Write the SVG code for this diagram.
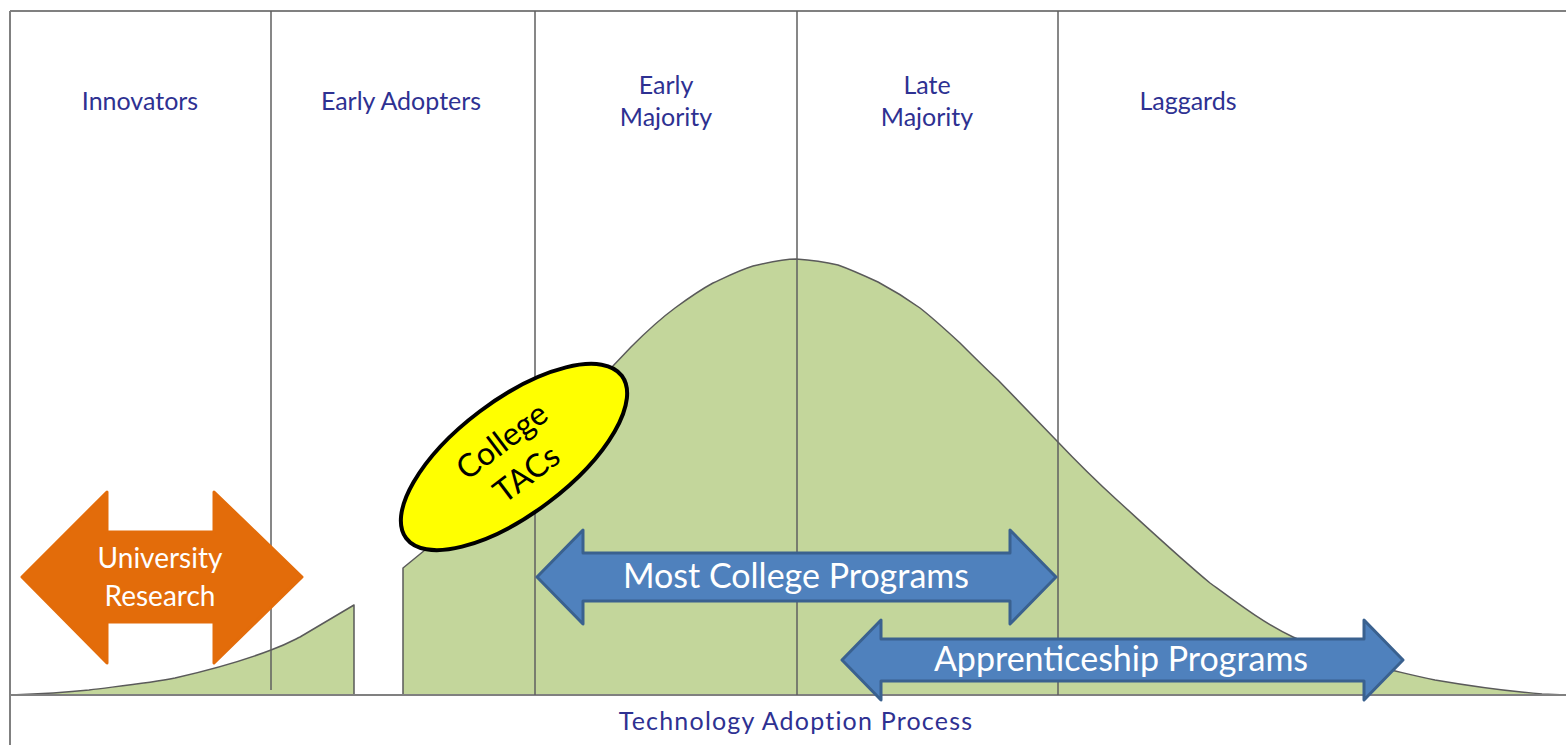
<svg xmlns="http://www.w3.org/2000/svg" width="1566" height="745" viewBox="0 0 1566 745">
<style>
.frame{stroke:#808080;stroke-width:2;fill:none}
.div{stroke:#5f5f5f;stroke-width:1.5;fill:none}
.curve{fill:#c3d69b;stroke:#5a5a5a;stroke-width:1.5;stroke-linejoin:round}
.lbl{font-family:Lato,"Liberation Sans",sans-serif;font-size:25px;fill:#2e3192;text-anchor:middle}
.blue{fill:#4f81bd;stroke:#3a618f;stroke-width:3;stroke-linejoin:round}
.wt{font-family:Lato,"Liberation Sans",sans-serif;fill:#ffffff;text-anchor:middle}
</style>
<rect x="0" y="0" width="1566" height="745" fill="#ffffff"/>
<g id="curves">
<path class="curve" d="M11,695 C40,694 70,692 89,690 C120,686 150,683 175,678 C210,670 245,660 271,650 C285,645 292,641 300,637 L354,605 L354,695 Z"/>
<path class="curve" d="M403,695 L403,568 L425,550 C460,520 500,480 540,430 C570,395 595,380 612,367 L631,347 C645,333 660,319 675,308 C690,297 700,290 713,283 C728,276 740,270 753,266 C770,262 785,259 796,259 C810,260 825,262 838,265 C852,270 865,276 878,282 C893,290 906,298 920,308 C934,319 947,331 960,343 C972,355 985,368 998,380 L1056,440 C1075,460 1095,480 1117,500 C1150,530 1180,558 1210,583 C1240,605 1265,624 1293,637 C1330,654 1360,663 1391,670 C1408,674 1420,677 1435,680 C1470,686 1505,691 1542,694 L1566,695 L1566,695 Z"/>
</g>
<g id="frame">
<line class="frame" x1="10" y1="11" x2="1566" y2="11"/>
<line class="frame" x1="10" y1="11" x2="10" y2="745"/>
<line class="frame" x1="10" y1="695" x2="1566" y2="695"/>
</g>
<g id="dividers">
<line class="div" x1="271" y1="11" x2="271" y2="690"/>
<line class="div" x1="535" y1="11" x2="535" y2="695"/>
<line class="div" x1="797" y1="11" x2="797" y2="695"/>
<line class="div" x1="1058" y1="11" x2="1058" y2="695"/>
</g>
<g id="labels">
<text class="lbl" x="140" y="110">Innovators</text>
<text class="lbl" x="401" y="110">Early Adopters</text>
<text class="lbl" x="666" y="94">Early</text>
<text class="lbl" x="666" y="126">Majority</text>
<text class="lbl" x="927" y="94">Late</text>
<text class="lbl" x="927" y="126">Majority</text>
<text class="lbl" x="1188" y="110">Laggards</text>
<text class="lbl" x="796" y="730" font-size="29" letter-spacing="1.2">Technology Adoption Process</text>
</g>
<g id="university-research">
<path d="M22,577 L107,492 L107,532 L214,532 L214,492 L302,577 L214,663 L214,622 L107,622 L107,663 Z" fill="#e36c0a" stroke="#e36c0a" stroke-width="3" stroke-linejoin="round"/>
<text class="wt" x="160" y="568" font-size="28">University</text>
<text class="wt" x="160" y="606" font-size="28">Research</text>
</g>
<g id="college-tacs" transform="translate(514,457) rotate(-37)">
<ellipse cx="0" cy="0" rx="135" ry="57" fill="#ffff00" stroke="#000000" stroke-width="4"/>
<text x="0" y="-9" font-family="Lato,'Liberation Sans',sans-serif" font-size="32" fill="#000000" text-anchor="middle">College</text>
<text x="0" y="32" font-family="Lato,'Liberation Sans',sans-serif" font-size="32" fill="#000000" text-anchor="middle">TACs</text>
</g>
<g id="most-college-programs">
<path class="blue" d="M537,577 L583,530 L583,553 L1010,553 L1010,530 L1056,577 L1010,624 L1010,601 L583,601 L583,624 Z"/>
<text class="wt" x="796" y="588" font-size="34">Most College Programs</text>
</g>
<g id="apprenticeship-programs">
<path class="blue" d="M842,660 L881,620 L881,639 L1364,639 L1364,620 L1403,660 L1364,700 L1364,681 L881,681 L881,700 Z"/>
<text class="wt" x="1121" y="671" font-size="34">Apprenticeship Programs</text>
</g>
</svg>
